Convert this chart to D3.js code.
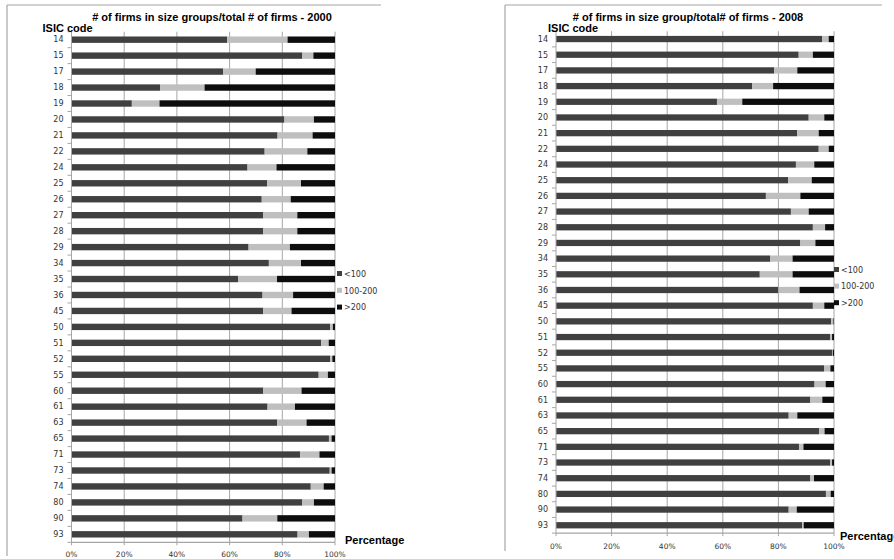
<!DOCTYPE html>
<html>
<head>
<meta charset="utf-8">
<script src="https://cdn.jsdelivr.net/npm/d3@7"></script>
<style>
  html, body { margin: 0; padding: 0; background: #fff; }
  svg { display: block; }
</style>
</head>
<body>
<svg id="chart" width="894" height="559"></svg>
<script>
// ISIC industry codes (shared by both years)
const isicCodes = ["14","15","17","18","19","20","21","22","24","25","26","27","28","29","34","35","36","45","50","51","52","55","60","61","63","65","71","73","74","80","90","93"];
const sizeGroups = ["<100", "100-200", ">200"];
const percentTicks = [0, 20, 40, 60, 80, 100];

// Share of firms (%) by size group, 2000
const small2000  = [59.1,87.6,57.5,33.7,22.9,80.8,78.2,73.3,66.8,74.3,72.2,72.8,72.8,67.2,74.9,63.3,72.5,72.8,98.2,94.8,98.2,93.8,72.8,74.4,78.0,97.7,86.8,98.0,90.8,87.6,64.9,85.8];
const medium2000 = [22.9, 4.2,12.4,16.8,10.5,11.2,13.3,16.2,11.0,12.8,11.0,12.9,12.9,15.7,12.2,14.7,11.6,10.7, 1.0, 2.8, 0.8, 3.5,14.5,10.4,11.2, 1.0, 7.3, 0.7, 4.9, 4.4,13.2, 4.3];
const large2000  = [18.0, 8.2,30.1,49.5,66.6, 8.0, 8.5,10.5,22.2,12.9,16.8,14.3,14.3,17.1,12.9,22.0,15.9,16.5, 0.8, 2.4, 1.0, 2.7,12.7,15.2,10.8, 1.3, 5.9, 1.3, 4.3, 8.0,21.9, 9.9];

// Share of firms (%) by size group, 2008
const small2008  = [95.7,87.3,78.5,70.6,57.9,90.9,86.8,94.5,86.3,83.5,75.5,84.5,92.4,87.9,77.1,73.3,80.0,92.4,99.0,98.7,99.4,96.4,93.0,91.5,83.7,94.6,87.4,98.7,91.5,97.1,83.7,88.5];
const medium2008 = [ 2.4, 5.1, 8.3, 7.5, 9.1, 5.6, 7.7, 3.6, 6.6, 8.5,12.4, 6.4, 4.4, 5.4, 8.0,11.8, 7.6, 4.1, 0.8, 0.6, 0.2, 2.3, 4.0, 4.3, 3.1, 2.0, 1.6, 0.6, 1.3, 1.7, 2.9, 0.6];
const large2008  = [ 1.9, 7.6,13.2,21.9,33.0, 3.5, 5.5, 1.9, 7.1, 8.0,12.1, 9.1, 3.2, 6.7,14.9,14.9,12.4, 3.5, 0.2, 0.7, 0.4, 1.3, 3.0, 4.2,13.2, 3.4,11.0, 0.7, 7.2, 1.2,13.4,10.9];

const colors = ["#404040", "#bfbfbf", "#0d0d0d"];
const gridColor = "#a6a6a6";

const svg = d3.select("#chart");

function drawPanel(cfg) {
  const rows = isicCodes.map((code, i) => ({
    code,
    "<100": cfg.small[i],
    "100-200": cfg.medium[i],
    ">200": cfg.large[i]
  }));
  const stacked = d3.stack().keys(sizeGroups)(rows);

  // outer frame (top and left edges)
  const frame = svg.append("g");
  frame.append("line")
    .attr("x1", cfg.frame.x0).attr("x2", cfg.frame.x1)
    .attr("y1", cfg.frame.y0).attr("y2", cfg.frame.y0)
    .attr("stroke", gridColor).attr("stroke-width", 1.2);
  frame.append("line")
    .attr("x1", cfg.frame.x0).attr("x2", cfg.frame.x0)
    .attr("y1", cfg.frame.y0).attr("y2", cfg.frame.y1)
    .attr("stroke", gridColor).attr("stroke-width", 1.2);

  const x = d3.scaleLinear().domain([0, 100]).range([cfg.left, cfg.right]);
  const y = d3.scaleBand().domain(isicCodes).range([cfg.top, cfg.bottom]).paddingInner(0.6).paddingOuter(0.3);

  const g = svg.append("g");

  // vertical gridlines
  g.selectAll("line.grid").data(percentTicks.slice(1)).join("line")
    .attr("class", "grid")
    .attr("x1", d => x(d)).attr("x2", d => x(d))
    .attr("y1", cfg.top).attr("y2", cfg.bottom)
    .attr("stroke", gridColor).attr("stroke-width", 1);

  // stacked bars
  g.selectAll("g.series").data(stacked).join("g")
    .attr("class", "series")
    .attr("fill", (d, i) => colors[i])
    .selectAll("rect").data(d => d).join("rect")
      .attr("x", d => x(d[0]))
      .attr("y", d => y(d.data.code))
      .attr("width", d => Math.max(0, x(d[1]) - x(d[0])))
      .attr("height", y.bandwidth());

  // category axis: line plus ticks at band boundaries
  const step = y.step();
  const boundaries = d3.range(isicCodes.length + 1).map(i => cfg.top + i * step);
  g.append("line")
    .attr("x1", x(0)).attr("x2", x(0))
    .attr("y1", cfg.top).attr("y2", cfg.bottom)
    .attr("stroke", gridColor).attr("stroke-width", 1);
  g.selectAll("line.ytick").data(boundaries).join("line")
    .attr("class", "ytick")
    .attr("x1", x(0) - 4).attr("x2", x(0))
    .attr("y1", d => d).attr("y2", d => d)
    .attr("stroke", gridColor).attr("stroke-width", 1);
  g.selectAll("text.ylab").data(isicCodes).join("text")
    .attr("class", "ylab")
    .attr("x", x(0) - 8)
    .attr("y", d => y(d) + y.bandwidth() / 2)
    .attr("dy", "0.35em")
    .attr("text-anchor", "end")
    .attr("font-family", "DejaVu Sans, Verdana, sans-serif")
    .attr("font-size", 8)
    .attr("fill", "#333")
    .text(d => d);

  // value axis along the bottom
  g.append("line")
    .attr("x1", x(0)).attr("x2", x(100))
    .attr("y1", cfg.bottom).attr("y2", cfg.bottom)
    .attr("stroke", gridColor).attr("stroke-width", 1.2);
  g.selectAll("line.xtick").data(percentTicks).join("line")
    .attr("class", "xtick")
    .attr("x1", d => x(d)).attr("x2", d => x(d))
    .attr("y1", cfg.bottom).attr("y2", cfg.bottom + 3)
    .attr("stroke", gridColor);
  g.selectAll("text.xlab").data(percentTicks).join("text")
    .attr("class", "xlab")
    .attr("x", d => x(d))
    .attr("y", cfg.xLabelY)
    .attr("text-anchor", "middle")
    .attr("font-family", "DejaVu Sans, Verdana, sans-serif")
    .attr("font-size", 7.5)
    .attr("fill", "#333")
    .text(d => d + "%");

  // titles
  g.append("text")
    .attr("x", cfg.titleX).attr("y", 21)
    .attr("text-anchor", "middle")
    .attr("font-family", "Liberation Sans, Arial, sans-serif")
    .attr("font-weight", "bold")
    .attr("font-size", 11)
    .attr("fill", "#000")
    .text(cfg.title);
  g.append("text")
    .attr("x", cfg.isicX).attr("y", 32)
    .attr("font-family", "Liberation Sans, Arial, sans-serif")
    .attr("font-weight", "bold")
    .attr("font-size", 11)
    .attr("fill", "#000")
    .text("ISIC code");
  g.append("text")
    .attr("x", cfg.pctX).attr("y", cfg.pctY)
    .attr("font-family", "Liberation Sans, Arial, sans-serif")
    .attr("font-weight", "bold")
    .attr("font-size", 11)
    .attr("fill", "#000")
    .text("Percentage");

  // legend
  const legend = g.selectAll("g.leg").data(sizeGroups).join("g")
    .attr("class", "leg")
    .attr("transform", (d, i) => `translate(${cfg.legendX},${cfg.legendY + i * cfg.legendGap})`);
  legend.append("rect")
    .attr("x", 0).attr("y", -3)
    .attr("width", 5).attr("height", 5)
    .attr("fill", (d, i) => colors[i]);
  legend.append("text")
    .attr("x", 7).attr("y", 0)
    .attr("dy", "0.35em")
    .attr("font-family", "DejaVu Sans, Verdana, sans-serif")
    .attr("font-size", 8)
    .attr("fill", "#333")
    .text(d => d);
}

drawPanel({
  small: small2000, medium: medium2000, large: large2000,
  title: "# of firms in size groups/total # of firms - 2000",
  frame: { x0: 7, x1: 381, y0: 5, y1: 556 },
  left: 71.5, right: 335, top: 31.7, bottom: 542.3,
  xLabelY: 557, titleX: 212, isicX: 42.5,
  pctX: 345, pctY: 544,
  legendX: 337, legendY: 274, legendGap: 16.8
});

drawPanel({
  small: small2008, medium: medium2008, large: large2008,
  title: "# of firms in size group/total# of firms - 2008",
  frame: { x0: 505, x1: 882, y0: 5, y1: 551 },
  left: 556, right: 834, top: 31.2, bottom: 533.1,
  xLabelY: 549, titleX: 688, isicX: 548,
  pctX: 840, pctY: 540,
  legendX: 834, legendY: 270, legendGap: 16.6
});
</script>
</body>
</html>
